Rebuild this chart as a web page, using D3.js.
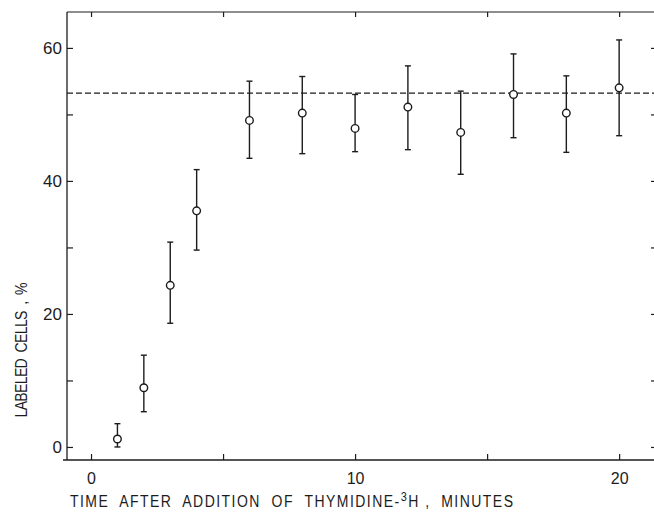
<!DOCTYPE html>
<html>
<head>
<meta charset="utf-8">
<script src="https://cdn.jsdelivr.net/npm/d3@7"></script>
<style>
  body { margin: 0; background: #fff; }
  svg { display: block; }
  text { font-family: "Liberation Sans", Arial, sans-serif; fill: #1c1c1c; }
  .title { font-family: "Liberation Sans Narrow", "Liberation Sans", Arial, sans-serif; white-space: pre; }
</style>
</head>
<body>
<svg width="654" height="514"></svg>
<script>
// minutes after thymidine-3H
var times = [1, 2, 3, 4, 6, 8, 10, 12, 14, 16, 18, 20];
// labeled cells, %
var labeled = [1.2, 8.9, 24.3, 35.5, 49.1, 50.2, 47.9, 51.1, 47.3, 53.0, 50.2, 54.0];
var errTop = [3.5, 13.8, 30.8, 41.7, 55.0, 55.7, 53.0, 57.3, 53.5, 59.1, 55.8, 61.2];
var errBottom = [0.0, 5.3, 18.6, 29.6, 43.4, 44.1, 44.4, 44.7, 41.0, 46.5, 44.3, 46.8];
var plateau = 53.2;
var xTicks = [0, 10, 20];
var xMinorTicks = [0, 5, 10, 15, 20];
var yTicks = [0, 20, 40, 60];
var yMinorTicks = [0, 10, 20, 30, 40, 50, 60];

var data = times.map(function(t, i) {
    return { t: t, v: labeled[i], hi: errTop[i], lo: errBottom[i] };
});

var ink = "#1c1c1c";
var svg = d3.select("svg");

var x = d3.scaleLinear().domain([-0.91, 21.32]).range([67, 654]);
var y = d3.scaleLinear().domain([-1.96, 65.4]).range([460, 12]);

// frame: left, bottom, top
var frame = svg.append("g").attr("stroke", ink).attr("fill", "none");
frame.append("line")
    .attr("x1", 67).attr("x2", 67)
    .attr("y1", y(65.4)).attr("y2", y(-1.96))
    .attr("stroke-width", 1.3);
frame.append("line")
    .attr("x1", 63).attr("x2", 654)
    .attr("y1", y(-1.96)).attr("y2", y(-1.96))
    .attr("stroke-width", 1.3);
frame.append("line")
    .attr("x1", 67).attr("x2", 654)
    .attr("y1", y(65.4)).attr("y2", y(65.4))
    .attr("stroke-width", 1);

// left axis ticks (inward)
var yAxis = d3.axisLeft(y).tickValues(yMinorTicks).tickSize(-6).tickPadding(5)
    .tickFormat(function(d) { return yTicks.indexOf(d) >= 0 ? d : ""; });
var gy = svg.append("g").attr("transform", "translate(67,0)").call(yAxis);
gy.select(".domain").remove();
gy.selectAll(".tick line").attr("stroke", ink).attr("stroke-width", 1.2);
gy.selectAll(".tick text").attr("font-size", 17).attr("fill", ink);

// right side ticks (axis line just beyond the picture)
var yRight = d3.axisRight(y).tickValues(yMinorTicks).tickSize(-3).tickFormat("");
var gr = svg.append("g").attr("transform", "translate(654,0)").call(yRight);
gr.select(".domain").remove();
gr.selectAll(".tick line").attr("stroke", ink).attr("stroke-width", 1.2);

// bottom axis ticks (inward)
var xAxis = d3.axisBottom(x).tickValues(xMinorTicks).tickSize(-6).tickPadding(13)
    .tickFormat(function(d) { return xTicks.indexOf(d) >= 0 ? d : ""; });
var gx = svg.append("g").attr("transform", "translate(0," + y(-1.96) + ")").call(xAxis);
gx.select(".domain").remove();
gx.selectAll(".tick line").attr("stroke", ink).attr("stroke-width", 1.2);
gx.selectAll(".tick text").attr("font-size", 16).attr("fill", ink);

// top ticks (inward)
var xTop = d3.axisTop(x).tickValues(xMinorTicks).tickSize(-5).tickFormat("");
var gt = svg.append("g").attr("transform", "translate(0," + y(65.4) + ")").call(xTop);
gt.select(".domain").remove();
gt.selectAll(".tick line").attr("stroke", ink).attr("stroke-width", 1.2);

// plateau dashed line
svg.append("line")
    .attr("x1", 67).attr("x2", 654)
    .attr("y1", y(plateau)).attr("y2", y(plateau))
    .attr("stroke", ink).attr("stroke-width", 1.1)
    .attr("stroke-dasharray", "6,3");

// error bars
var bars = svg.append("g").attr("stroke", ink).attr("stroke-width", 1.4);
bars.selectAll(".err").data(data).enter().append("line")
    .attr("x1", d => x(d.t)).attr("x2", d => x(d.t))
    .attr("y1", d => y(d.hi)).attr("y2", d => y(d.lo));
bars.selectAll(".capTop").data(data).enter().append("line")
    .attr("x1", d => x(d.t) - 3).attr("x2", d => x(d.t) + 3)
    .attr("y1", d => y(d.hi)).attr("y2", d => y(d.hi));
bars.selectAll(".capBot").data(data).enter().append("line")
    .attr("x1", d => x(d.t) - 3).attr("x2", d => x(d.t) + 3)
    .attr("y1", d => y(d.lo)).attr("y2", d => y(d.lo));

// points
svg.selectAll("circle").data(data).enter().append("circle")
    .attr("cx", d => x(d.t))
    .attr("cy", d => y(d.v))
    .attr("r", 3.8)
    .attr("fill", "#fff")
    .attr("stroke", ink)
    .attr("stroke-width", 1.4);

// axis titles (narrow lettering, a bit taller than wide)
var xt = svg.append("text")
    .attr("class", "title")
    .attr("transform", "translate(70,507) scale(1,1.18)")
    .attr("font-size", 14)
    .attr("textLength", 443).attr("lengthAdjust", "spacing");
xt.append("tspan").text("TIME  AFTER  ADDITION  OF  THYMIDINE-");
xt.append("tspan").attr("dy", -5).attr("font-size", 11).text("3");
xt.append("tspan").attr("dy", 5).text("H ,  MINUTES");

svg.append("text")
    .attr("class", "title")
    .attr("transform", "translate(27,350) rotate(-90) scale(1,1.18)")
    .attr("text-anchor", "middle")
    .attr("font-size", 14)
    .attr("textLength", 135).attr("lengthAdjust", "spacing")
    .text("LABELED  CELLS  ,  %");
</script>
</body>
</html>
